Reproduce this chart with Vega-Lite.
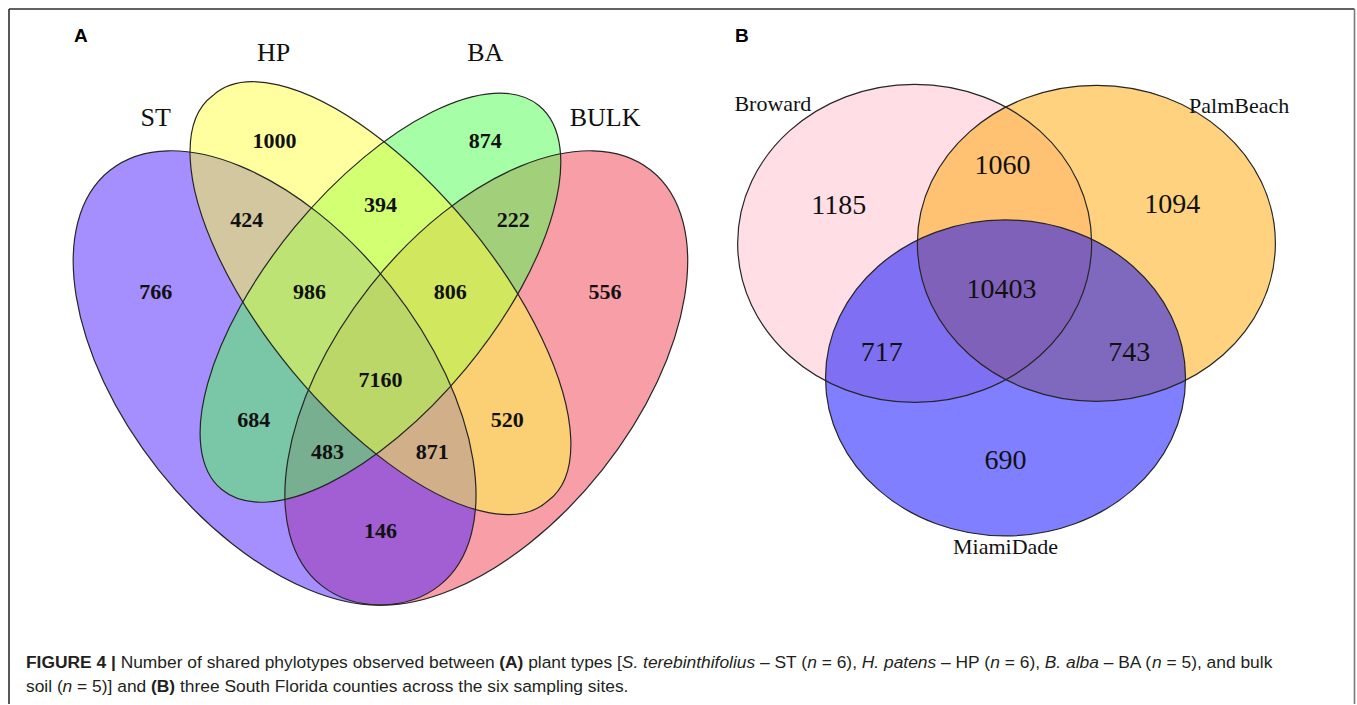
{
  "$schema": "https://vega.github.io/schema/vega-lite/v6.json",
  "width": 1357,
  "height": 705,
  "autosize": {"type": "fit", "contains": "padding"},
  "padding": {"left": 8, "top": 8, "right": 1.5, "bottom": 0},
  "background": "white",
  "config": {"view": {"stroke": null}},
  "datasets": {
    "frame": [
      {"edge": "top", "x": 8, "x2": 1355.5, "y": 8, "y2": 8},
      {"edge": "left", "x": 8, "x2": 8, "y": 8, "y2": 705},
      {"edge": "right", "x": 1355.5, "x2": 1355.5, "y": 8, "y2": 705}
    ],
    "sets": [
      {"set": "BULK", "x": 486, "y": 378},
      {"set": "ST", "x": 274, "y": 378},
      {"set": "BA", "x": 380, "y": 297.5},
      {"set": "HP", "x": 380, "y": 298},
      {"set": "Broward", "x": 915, "y": 243},
      {"set": "PalmBeach", "x": 1097, "y": 243},
      {"set": "MiamiDade", "x": 1006, "y": 378}
    ],
    "texts": [
      {"group": "countA", "label": "1000", "x": 274, "y": 140},
      {"group": "countA", "label": "874", "x": 485, "y": 140},
      {"group": "countA", "label": "424", "x": 246, "y": 220},
      {"group": "countA", "label": "394", "x": 380, "y": 205},
      {"group": "countA", "label": "222", "x": 513, "y": 220},
      {"group": "countA", "label": "766", "x": 155, "y": 292},
      {"group": "countA", "label": "986", "x": 309, "y": 292},
      {"group": "countA", "label": "806", "x": 450, "y": 292},
      {"group": "countA", "label": "556", "x": 605, "y": 292},
      {"group": "countA", "label": "7160", "x": 380, "y": 380},
      {"group": "countA", "label": "684", "x": 253, "y": 420},
      {"group": "countA", "label": "520", "x": 507, "y": 420},
      {"group": "countA", "label": "483", "x": 327, "y": 452},
      {"group": "countA", "label": "871", "x": 432, "y": 452},
      {"group": "countA", "label": "146", "x": 380, "y": 532},
      {"group": "countB", "label": "1185", "x": 839, "y": 206},
      {"group": "countB", "label": "1060", "x": 1003, "y": 165},
      {"group": "countB", "label": "1094", "x": 1173, "y": 205},
      {"group": "countB", "label": "10403", "x": 1002, "y": 290},
      {"group": "countB", "label": "717", "x": 882, "y": 353},
      {"group": "countB", "label": "743", "x": 1130, "y": 353},
      {"group": "countB", "label": "690", "x": 1006, "y": 461},
      {"group": "setA", "label": "HP", "x": 273, "y": 52},
      {"group": "setA", "label": "BA", "x": 485, "y": 52},
      {"group": "setA", "label": "ST", "x": 155, "y": 117},
      {"group": "setA", "label": "BULK", "x": 605, "y": 117},
      {"group": "setB", "label": "Broward", "x": 773, "y": 103},
      {"group": "setB", "label": "PalmBeach", "x": 1240, "y": 105},
      {"group": "setB", "label": "MiamiDade", "x": 1006, "y": 548},
      {"group": "panel", "label": "A", "x": 80, "y": 35},
      {"group": "panel", "label": "B", "x": 742, "y": 35},
      {"group": "capStrong", "label": "FIGURE 4 |", "x": 25, "y": 664},
      {"group": "capPlain", "label": "Number of shared phylotypes observed between", "x": 119.8, "y": 664},
      {"group": "capStrong", "label": "(A)", "x": 498.9, "y": 664},
      {"group": "capPlain", "label": "plant types [", "x": 527.9, "y": 664},
      {"group": "capTerm", "label": "S. terebinthifolius", "x": 621.7, "y": 664},
      {"group": "capPlain", "label": "– ST (", "x": 760, "y": 664},
      {"group": "capTerm", "label": "n", "x": 807.4, "y": 664},
      {"group": "capPlain", "label": "= 6),", "x": 821.9, "y": 664},
      {"group": "capTerm", "label": "H. patens", "x": 862, "y": 664},
      {"group": "capPlain", "label": "– HP (", "x": 941.4, "y": 664},
      {"group": "capTerm", "label": "n", "x": 990.7, "y": 664},
      {"group": "capPlain", "label": "= 6),", "x": 1005.2, "y": 664},
      {"group": "capTerm", "label": "B. alba", "x": 1045.3, "y": 664},
      {"group": "capPlain", "label": "– BA (", "x": 1104.3, "y": 664},
      {"group": "capTerm", "label": "n", "x": 1152.7, "y": 664},
      {"group": "capPlain", "label": "= 5), and bulk", "x": 1167.2, "y": 664},
      {"group": "capPlain", "label": "soil (", "x": 25, "y": 688},
      {"group": "capTerm", "label": "n", "x": 61.7, "y": 688},
      {"group": "capPlain", "label": "= 5)] and", "x": 76.2, "y": 688},
      {"group": "capStrong", "label": "(B)", "x": 150.2, "y": 688},
      {"group": "capPlain", "label": "three South Florida counties across the six sampling sites.", "x": 179.2, "y": 688}
    ]
  },
  "encoding": {
    "x": {"field": "x", "type": "quantitative", "scale": {"domain": [8, 1355.5], "nice": false, "zero": false}, "axis": null},
    "y": {"field": "y", "type": "quantitative", "scale": {"domain": [8, 705], "nice": false, "zero": false, "reverse": true}, "axis": null}
  },
  "layer": [
    {
      "data": {"name": "frame"},
      "mark": {"type": "rule", "strokeWidth": 1.6},
      "encoding": {
        "x2": {"field": "x2"},
        "y2": {"field": "y2"},
        "stroke": {"field": "edge", "type": "nominal", "legend": null, "scale": {"domain": ["top", "left", "right"], "range": ["#2e2e2e", "#2e2e2e", "#7a7a7a"]}}
      }
    },
    {
      "data": {"name": "sets"},
      "mark": {"type": "point", "filled": true, "size": 4, "opacity": 1, "fillOpacity": 0.5, "strokeWidth": 0},
      "encoding": {
        "shape": {"field": "set", "type": "nominal", "legend": null, "scale": {
          "domain": ["BULK", "ST", "BA", "HP", "Broward", "PalmBeach", "MiamiDade"],
          "range": [
            "M164.6 -207.7 A265 148 -51.6 1 1 -164.6 207.7 A265 148 -51.6 1 1 164.6 -207.7 Z",
            "M164.6 207.7 A265 148 51.6 1 1 -164.6 -207.7 A265 148 51.6 1 1 164.6 207.7 Z",
            "M158.7 -191.9 A249 111 -50.4 1 1 -158.7 191.9 A249 111 -50.4 1 1 158.7 -191.9 Z",
            "M167.6 202.6 A263 112 50.4 1 1 -167.6 -202.6 A263 112 50.4 1 1 167.6 202.6 Z",
            "M177 0 A177 159 0 1 1 -177 0 A177 159 0 1 1 177 0 Z",
            "M179 0 A179 158 0 1 1 -179 0 A179 158 0 1 1 179 0 Z",
            "M180 0 A180 158 0 1 1 -180 0 A180 158 0 1 1 180 0 Z"
          ]}},
        "fill": {"field": "set", "type": "nominal", "legend": null, "scale": {
          "domain": ["BULK", "ST", "BA", "HP", "Broward", "PalmBeach", "MiamiDade"],
          "range": ["#EF3D4F", "#4B1FFF", "#4DFF4D", "#FFFF40", "#FFC0CB", "#FFA500", "#0000FF"]}}
      }
    },
    {
      "data": {"name": "sets"},
      "mark": {"type": "point", "filled": false, "size": 4, "opacity": 1, "fillOpacity": 0, "stroke": "#262626", "strokeWidth": 1.2},
      "encoding": {
        "shape": {"field": "set", "type": "nominal", "legend": null, "scale": {
          "domain": ["BULK", "ST", "BA", "HP", "Broward", "PalmBeach", "MiamiDade"],
          "range": [
            "M164.6 -207.7 A265 148 -51.6 1 1 -164.6 207.7 A265 148 -51.6 1 1 164.6 -207.7 Z",
            "M164.6 207.7 A265 148 51.6 1 1 -164.6 -207.7 A265 148 51.6 1 1 164.6 207.7 Z",
            "M158.7 -191.9 A249 111 -50.4 1 1 -158.7 191.9 A249 111 -50.4 1 1 158.7 -191.9 Z",
            "M167.6 202.6 A263 112 50.4 1 1 -167.6 -202.6 A263 112 50.4 1 1 167.6 202.6 Z",
            "M177 0 A177 159 0 1 1 -177 0 A177 159 0 1 1 177 0 Z",
            "M179 0 A179 158 0 1 1 -179 0 A179 158 0 1 1 179 0 Z",
            "M180 0 A180 158 0 1 1 -180 0 A180 158 0 1 1 180 0 Z"
          ]}}
      }
    },
    {
      "data": {"name": "texts"},
      "transform": [{"filter": "datum.group === 'countA'"}],
      "mark": {"type": "text", "font": "Liberation Serif", "fontWeight": "bold", "fontSize": 22, "color": "#111", "align": "center", "baseline": "middle"},
      "encoding": {"text": {"field": "label"}}
    },
    {
      "data": {"name": "texts"},
      "transform": [{"filter": "datum.group === 'countB'"}],
      "mark": {"type": "text", "font": "Liberation Serif", "fontSize": 28, "color": "#111", "align": "center", "baseline": "middle"},
      "encoding": {"text": {"field": "label"}}
    },
    {
      "data": {"name": "texts"},
      "transform": [{"filter": "datum.group === 'setA'"}],
      "mark": {"type": "text", "font": "Liberation Serif", "fontSize": 26, "color": "#111", "align": "center", "baseline": "middle"},
      "encoding": {"text": {"field": "label"}}
    },
    {
      "data": {"name": "texts"},
      "transform": [{"filter": "datum.group === 'setB'"}],
      "mark": {"type": "text", "font": "Liberation Serif", "fontSize": 22, "color": "#111", "align": "center", "baseline": "middle"},
      "encoding": {"text": {"field": "label"}}
    },
    {
      "data": {"name": "texts"},
      "transform": [{"filter": "datum.group === 'panel'"}],
      "mark": {"type": "text", "font": "Liberation Sans", "fontWeight": "bold", "fontSize": 19, "color": "#000", "align": "center", "baseline": "middle"},
      "encoding": {"text": {"field": "label"}}
    },
    {
      "data": {"name": "texts"},
      "transform": [{"filter": "datum.group === 'capPlain'"}],
      "mark": {"type": "text", "font": "Liberation Sans", "fontSize": 17.4, "color": "#231f20", "align": "left", "baseline": "middle"},
      "encoding": {"text": {"field": "label"}}
    },
    {
      "data": {"name": "texts"},
      "transform": [{"filter": "datum.group === 'capStrong'"}],
      "mark": {"type": "text", "font": "Liberation Sans", "fontWeight": "bold", "fontSize": 17.4, "color": "#231f20", "align": "left", "baseline": "middle"},
      "encoding": {"text": {"field": "label"}}
    },
    {
      "data": {"name": "texts"},
      "transform": [{"filter": "datum.group === 'capTerm'"}],
      "mark": {"type": "text", "font": "Liberation Sans", "fontStyle": "italic", "fontSize": 17.4, "color": "#231f20", "align": "left", "baseline": "middle"},
      "encoding": {"text": {"field": "label"}}
    }
  ]
}
